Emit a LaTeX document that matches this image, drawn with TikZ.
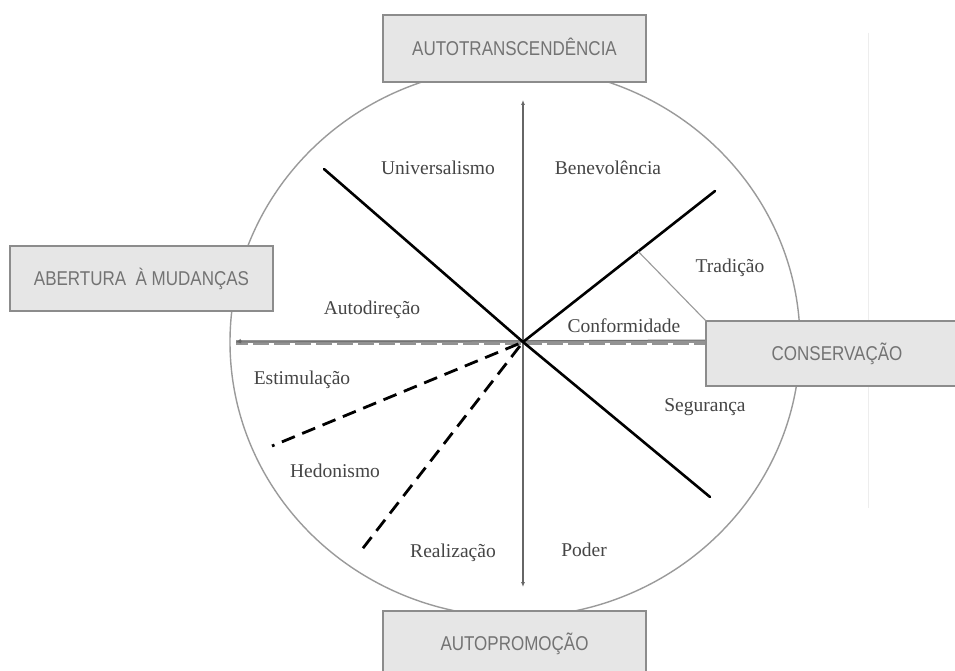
\documentclass[tikz,border=0pt]{standalone}
\usepackage{fontspec}
\setmainfont{Liberation Serif}
\newfontfamily\boxfont[FakeStretch=0.85]{Liberation Sans}
\usetikzlibrary{arrows.meta,calc}
\definecolor{boxfill}{HTML}{E6E6E6}
\definecolor{boxline}{HTML}{8C8C8C}
\definecolor{boxtext}{HTML}{737373}
\definecolor{labtext}{HTML}{454545}
\definecolor{ringcol}{HTML}{9A9A9A}
\definecolor{hband}{HTML}{939393}
\tikzset{
  pole/.style={draw=boxline, line width=1.1pt, fill=boxfill, inner sep=0pt, outer sep=0pt,
    font=\boxfont\fontsize{20}{22}\selectfont, text=boxtext, text height=14.3pt, text depth=0pt},
  val/.style={font=\fontsize{19.5}{22}\selectfont, text=labtext, anchor=base, inner sep=0pt},
  divider/.style={line width=2.6pt, black},
  dashdiv/.style={line width=2.8pt, black, dash pattern=on 14pt off 8pt},
  axis/.style={line width=1.3pt, draw=black!60, {Latex[length=5pt,width=4pt]}-{Latex[length=5pt,width=4pt]}}
}
\begin{document}
\begin{tikzpicture}[x=1pt,y=-1pt]
\useasboundingbox (0,0) rectangle (955,671);
\fill[white] (0,0) rectangle (955,671);
% faint vertical rule on the right
\draw[black!7, line width=1pt] (868,33) -- (868,508);
% ring
\draw[ringcol, line width=1.4pt] (515,342) ellipse [x radius=285, y radius=275];
\coordinate (c) at (523,342);
\coordinate (nw) at (324,169);
\coordinate (ne) at (715,191);
\coordinate (se) at (710,497);
\coordinate (d1) at (272,446);
\coordinate (d2) at (360,552);
\coordinate (hl) at (236,342);
\coordinate (vt) at (523,100);
\coordinate (vb) at (523,587);
% boxes
\node[pole, minimum width=263pt, minimum height=67pt] (top) at (514.5,48.5) {AUTOTRANSCENDÊNCIA};
\node[pole, minimum width=263pt, minimum height=65pt] (left) at (141.5,278.5) {ABERTURA\ \ À MUDANÇAS};
\node[pole, minimum width=263pt, minimum height=64pt] (bot) at (514.5,643) {AUTOPROMOÇÃO};
% horizontal axis
\draw[line width=5pt, hband] (hl) -- (706,342);
\draw[line width=1pt, black!55] (hl) -- (706,340);
\draw[line width=2.6pt, white, dash pattern=on 5pt off 16pt] (248,344.5) -- (706,344.5);
\draw[line width=1pt, black!60, -{Latex[length=5pt,width=5pt]}] (242,341) -- (hl);
% vertical axis
\draw[axis] (vb) -- (vt);
% dividers
\draw[divider, line cap=round] (nw) -- (c) -- (se);
\draw[divider, line cap=round] (c) -- (ne);
\coordinate (t1) at ($(c)!0.6!(ne)$);
\draw[dashdiv, shorten <=5pt] (c) -- (d1);
\draw[dashdiv, shorten <=5pt] (c) -- (d2);
% right box
\node[pole, minimum width=262pt, minimum height=65pt] (right) at (837,353.5) {CONSERVAÇÃO};
\draw[ringcol, line width=1.1pt] (t1) -- (right.north west);
% values
\node[val] (u) at (438,175) {Universalismo};
\node[val] (b) at (608,175) {Benevolência};
\node[val] (tr) at (730,272) {Tradição};
\node[val] (co) at (624,332) {Conformidade};
\node[val] (ad) at (372,314) {Autodireção};
\node[val] (es) at (302,384) {Estimulação};
\node[val] (he) at (335,477) {Hedonismo};
\node[val] (re) at (453,557) {Realização};
\node[val] (po) at (584,556) {Poder};
\node[val] (se2) at (705,411) {Segurança};
\end{tikzpicture}
\end{document}
